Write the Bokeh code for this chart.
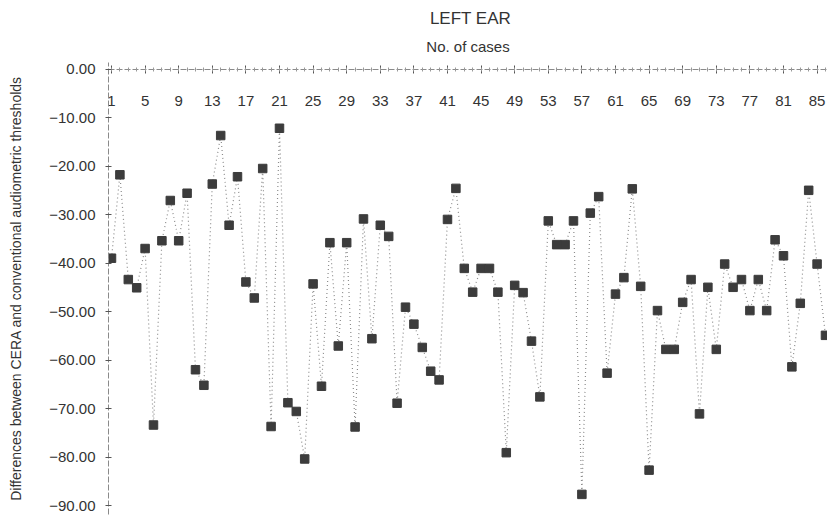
from bokeh.plotting import figure
from bokeh.models import FixedTicker, CustomJSTickFormatter, Title, Range1d
from bokeh.embed import file_html
from bokeh.resources import INLINE

# ---- data ----
cases = list(range(1, 87))
diffs = [-39.0, -21.8, -43.4, -45.1, -37.0, -73.4, -35.4, -27.1, -35.4, -25.6,
         -62.0, -65.2, -23.7, -13.7, -32.2, -22.2, -43.9, -47.2, -20.5, -73.7,
         -12.2, -68.8, -70.6, -80.4, -44.3, -65.4, -35.8, -57.1, -35.8, -73.8,
         -30.9, -55.6, -32.2, -34.5, -68.9, -49.1, -52.6, -57.4, -62.3, -64.1,
         -31.0, -24.6, -41.1, -46.0, -41.1, -41.1, -46.0, -79.1, -44.6, -46.1,
         -56.1, -67.6, -31.3, -36.2, -36.2, -31.3, -87.7, -29.7, -26.3, -62.7,
         -46.4, -43.0, -24.7, -44.8, -82.7, -49.8, -57.8, -57.8, -48.1, -43.4,
         -71.1, -45.0, -57.8, -40.2, -45.0, -43.4, -49.8, -43.4, -49.8, -35.2,
         -38.5, -61.4, -48.3, -25.0, -40.2, -54.9]
x_ticks = list(range(1, 86, 4))
y_ticks = [0, -10, -20, -30, -40, -50, -60, -70, -80, -90]

title_text = "LEFT EAR"
subtitle_text = "No. of cases"
y_label = "Differences between CERA and conventional audiometric thresholds"

FONT = "Liberation Sans"
TXT = "#333333"

p = figure(width=827, height=516, output_backend="svg", toolbar_location=None,
           x_range=Range1d(0.643, 86.24), y_range=Range1d(-91.85, 1.36),
           min_border_left=108, min_border_right=0, min_border_bottom=2,
           min_border_top=62, title=None)
p.outline_line_color = None
p.grid.visible = False
p.background_fill_color = "white"

# titles (first added is closest to the frame)
p.add_layout(Title(text=subtitle_text, align="center", text_font=FONT,
                   text_font_size="15px", text_font_style="normal",
                   text_color=TXT, standoff=16), "above")
p.add_layout(Title(text=title_text, align="center", text_font=FONT,
                   text_font_size="17px", text_font_style="normal",
                   text_color=TXT, standoff=0, padding=(5, 0, 0, 0)), "above")

# x axis sits at y = 0 with labels beneath the line
xa = p.xaxis[0]
xa.fixed_location = 0
xa.ticker = FixedTicker(ticks=x_ticks, minor_ticks=cases)
xa.major_label_text_font = FONT
xa.major_label_text_font_size = "15px"
xa.major_label_text_color = TXT
xa.major_label_standoff = 23
xa.major_tick_in = 4
xa.major_tick_out = 4
xa.minor_tick_in = 2
xa.minor_tick_out = 2
xa.axis_line_color = "#8a8a8a"
xa.axis_line_dash = "6 2"
xa.major_tick_line_color = "#555555"
xa.minor_tick_line_color = "#999999"

ya = p.yaxis[0]
ya.ticker = FixedTicker(ticks=y_ticks)
ya.formatter = CustomJSTickFormatter(
    code="return (tick < 0 ? '\u2212' : '') + Math.abs(tick).toFixed(2);")
ya.major_label_text_font = FONT
ya.major_label_text_font_size = "15px"
ya.major_label_text_color = TXT
ya.major_label_standoff = 10
ya.major_tick_in = 3
ya.major_tick_out = 3
ya.minor_tick_line_color = None
ya.axis_line_color = "#8a8a8a"
ya.axis_line_dash = "6 2"
ya.major_tick_line_color = "#555555"
ya.axis_label = y_label
ya.axis_label_text_font = FONT
ya.axis_label_text_font_size = "14px"
ya.axis_label_text_font_style = "normal"
ya.axis_label_text_color = TXT
ya.axis_label_standoff = 22

p.line(cases, diffs, line_color="#8c8c8c", line_width=1.2, line_dash="1 3")
p.scatter(cases, diffs, marker="square", size=8.5, fill_color="#3c3c3c",
          line_color="#3c3c3c")

open("out.html", "w").write(file_html(p, INLINE))
